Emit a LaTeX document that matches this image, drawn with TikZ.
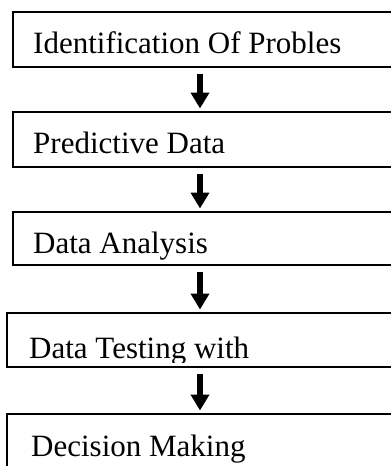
\documentclass[tikz,border=0pt]{standalone}
\usepackage{fontspec}
\setmainfont{Liberation Serif}
\usetikzlibrary{arrows.meta}

\begin{document}
\begin{tikzpicture}[
  x=1pt, y=-1pt,
  box/.style={draw, line width=2pt, anchor=north west, minimum width=420pt, inner sep=0pt, outer sep=0pt},
  boxtxt/.style={anchor=base west, inner sep=0pt, font=\fontsize{31}{37}\selectfont},
  flow/.style={line width=5.5pt, -{Triangle[length=16pt, width=18pt]}, shorten <=6.5pt, shorten >=3.5pt}
]
\useasboundingbox (0,0) rectangle (391,466);
\clip (0,0) rectangle (391,466);

\node[box, minimum height=55pt] (b-ident) at (13,12)  {};
\node[box, minimum height=55pt] (b-pred)  at (13,112) {};
\node[box, minimum height=53pt] (b-anal)  at (13,212) {};
\node[box, minimum height=54pt] (b-test)  at (7,313)  {};
\node[box, minimum height=70pt] (b-dec)   at (7,414)  {};

\coordinate (col) at (200,0);

\node[boxtxt] (t-ident) at (33,53)  {Identification Of Probles};
\node[boxtxt] (t-pred)  at (33,153) {Predictive Data};
\node[boxtxt] (t-anal)  at (33,253) {Data Analysis};
\begin{scope}
  % text cut off at the bottom of the box
  \clip (b-test.north west) rectangle ([yshift=5pt]b-test.south east);
  \node[boxtxt] (t-test) at (29,358) {Data Testing with};
\end{scope}
\node[boxtxt] (t-dec)   at (31,456) {Decision Making};

\foreach \a/\b in {b-ident/b-pred, b-pred/b-anal, b-anal/b-test, b-test/b-dec}
  \draw[flow] (\a.south -| col) -- (\b.north -| col);

\end{tikzpicture}
\end{document}
